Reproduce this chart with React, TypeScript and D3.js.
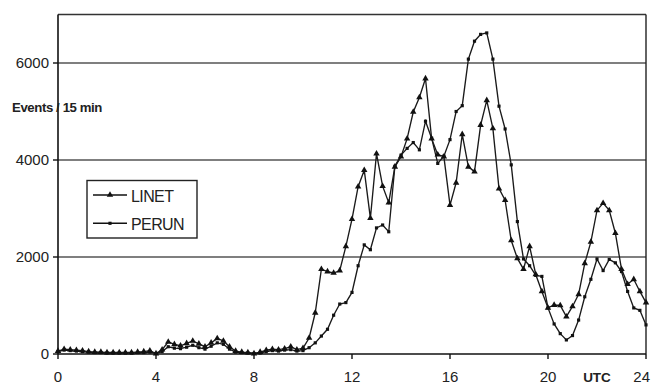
import React from "react";
import * as d3 from "d3";

const hours: number[] = Array.from({ length: 97 }, (_, i) => i * 0.25);

const linet: number[] = [
  60, 100, 90, 80, 70, 50, 40, 40, 30, 30, 30, 30, 30, 40, 50, 70,
  10, 90, 250, 200, 170, 220, 270, 210, 150, 230, 320, 270, 150, 60, 40, 30,
  10, 40, 80, 100, 90, 110, 150, 90, 120, 330, 850, 1750, 1700, 1670, 1720, 2220,
  2780, 3450, 3790, 2800, 4130, 3460, 3120, 3860, 4070, 4440, 4990, 5290, 5680, 4440, 4110, 4070,
  3070, 3530, 4530, 3860, 3760, 4720, 5230, 4650, 3410, 3170, 2340, 1970, 1750, 2220, 1640, 1290,
  950, 1010, 1000, 770, 980, 1230, 1870, 2310, 2960, 3110, 2960, 2490, 1750, 1440, 1540, 1290,
  1060,
];

const perun: number[] = [
  50, 80, 70, 60, 50, 40, 30, 30, 20, 20, 20, 20, 20, 30, 30, 40,
  10, 50, 150, 120, 110, 140, 180, 130, 100, 160, 230, 200, 100, 40, 30, 20,
  10, 20, 50, 70, 60, 80, 90, 60, 70, 130, 230, 370, 510, 800, 1030, 1060,
  1270, 1820, 2250, 2150, 2600, 2660, 2520, 3870, 4100, 4240, 4360, 4210, 4800, 4450, 3930, 4080,
  4420, 5000, 5120, 6080, 6450, 6590, 6620, 6080, 5110, 4640, 3900, 2730, 1960, 1820, 1620, 1600,
  950, 620, 420, 290, 380, 700, 1180, 1540, 1960, 1720, 1950, 1880, 1700, 1290, 950, 900,
  600,
];

const yTicks: number[] = [0, 2000, 4000, 6000];
const gridValues: number[] = [2000, 4000, 6000];
const xTicks: number[] = [0, 4, 8, 12, 16, 20, 24];
const seriesNames: string[] = ["LINET", "PERUN"];

const W = 651;
const H = 383;
const left = 58;
const right = 646;
const top = 14.5;
const bottom = 354;

export default function App() {
  const x = d3.scaleLinear().domain([0, 24]).range([left, right]);
  const y = d3.scaleLinear().domain([0, 7000]).range([bottom, top]);

  const line = d3
    .line<number>()
    .x((_, i) => x(hours[i]))
    .y((d) => y(d));

  const tri = d3.symbol().type(d3.symbolTriangle).size(18)() as string;
  const sq = d3.symbol().type(d3.symbolSquare).size(10)() as string;

  const font = "'Liberation Sans', Arial, sans-serif";

  return (
    <svg
      width={W}
      height={H}
      style={{ position: "absolute", left: 0, top: 0, background: "#fff" }}
      fontFamily={font}
    >
      <rect x={0} y={0} width={W} height={H} fill="#fff" />
      {gridValues.map((v) => (
        <line
          key={"g" + v}
          x1={left}
          x2={right}
          y1={y(v)}
          y2={y(v)}
          stroke="#555"
          strokeWidth={1.6}
        />
      ))}
      <line x1={left} x2={right} y1={top} y2={top} stroke="#333" strokeWidth={1.6} />
      <line x1={right} x2={right} y1={top} y2={bottom} stroke="#222" strokeWidth={1.4} />
      <line x1={left} x2={right} y1={bottom} y2={bottom} stroke="#111" strokeWidth={1.6} />
      <line x1={left} x2={left} y1={top} y2={bottom} stroke="#111" strokeWidth={1.6} />
      {yTicks.map((v) => (
        <g key={"y" + v}>
          <line x1={left - 5} x2={left} y1={y(v)} y2={y(v)} stroke="#111" strokeWidth={1.4} />
          <text x={left - 9} y={y(v) + 5.3} textAnchor="end" fontSize={15} fill="#222">
            {v}
          </text>
        </g>
      ))}
      {xTicks.map((h) => (
        <g key={"x" + h}>
          <line x1={x(h)} x2={x(h)} y1={bottom} y2={bottom + 5} stroke="#111" strokeWidth={1.4} />
          <text
            x={h === 24 ? W - 1 : x(h)}
            y={381.5}
            textAnchor={h === 24 ? "end" : "middle"}
            fontSize={15}
            fill="#222"
          >
            {h}
          </text>
        </g>
      ))}
      <text x={597} y={381.5} textAnchor="middle" fontSize={13.5} fontWeight="bold" fill="#222">
        UTC
      </text>
      <text x={12} y={112} fontSize={13.2} fontWeight="bold" fill="#222" letterSpacing={-0.4}>
        Events / 15 min
      </text>
      <path d={line(perun) || ""} fill="none" stroke="#1a1a1a" strokeWidth={1.35} />
      <path d={line(linet) || ""} fill="none" stroke="#1a1a1a" strokeWidth={1.35} />
      {perun.map((v, i) => (
        <path key={"p" + i} d={sq} transform={`translate(${x(hours[i])},${y(v)})`} fill="#111" />
      ))}
      {linet.map((v, i) => (
        <path key={"l" + i} d={tri} transform={`translate(${x(hours[i])},${y(v)})`} fill="#111" />
      ))}
      <rect x={87} y={180.5} width={110} height={57.5} fill="#fff" stroke="#222" strokeWidth={1.4} />
      {seriesNames.map((name, i) => {
        const ly = 195 + i * 28.3;
        return (
          <g key={name}>
            <line x1={93} x2={127} y1={ly} y2={ly} stroke="#111" strokeWidth={1.4} />
            <path d={i === 0 ? tri : sq} transform={`translate(110,${ly})`} fill="#111" />
            <text x={131} y={ly + 6.5} fontSize={16} fill="#222" letterSpacing={-0.6}>
              {name}
            </text>
          </g>
        );
      })}
    </svg>
  );
}
